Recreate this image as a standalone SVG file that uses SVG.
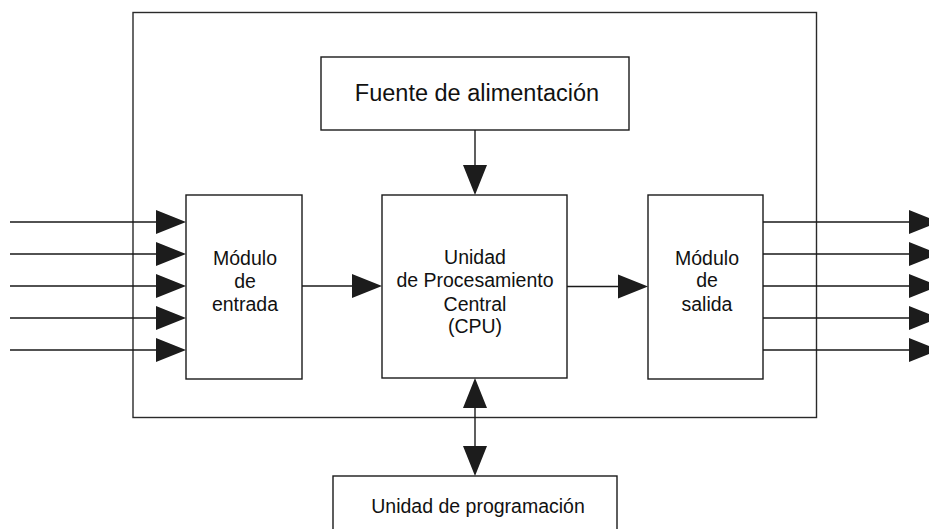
<svg xmlns="http://www.w3.org/2000/svg" width="929" height="529" viewBox="0 0 929 529">
<defs>
<style>
.box{fill:#fff;stroke:#1a1a1a;stroke-width:1.4}
.frame{fill:none;stroke:#2a2a2a;stroke-width:1.4}
.ln{stroke:#1a1a1a;stroke-width:1.4;fill:none}
.ah{fill:#1c1c1c}
text{font-family:"Liberation Sans",Arial,sans-serif;fill:#111;text-anchor:middle}
.t{font-size:19.5px}
.tb{font-size:23.5px}
</style>
</defs>
<rect width="929" height="529" fill="#fff"/>
<g id="frame"><rect class="frame" x="133" y="12.5" width="683.5" height="405"/></g>
<g id="fuente">
<rect class="box" x="321" y="57" width="308" height="73"/>
<text class="tb" x="477" y="101">Fuente de alimentación</text>
</g>
<g id="entrada">
<rect class="box" x="186" y="195" width="116" height="184"/>
<text class="t" x="245" y="265">Módulo</text>
<text class="t" x="245" y="288">de</text>
<text class="t" x="245" y="311">entrada</text>
</g>
<g id="cpu">
<rect class="box" x="382" y="195" width="185" height="183"/>
<text class="t" x="475" y="264">Unidad</text>
<text class="t" x="475" y="287">de Procesamiento</text>
<text class="t" x="475" y="311">Central</text>
<text class="t" x="475" y="333">(CPU)</text>
</g>
<g id="salida">
<rect class="box" x="648" y="195" width="115" height="184"/>
<text class="t" x="707" y="265">Módulo</text>
<text class="t" x="707" y="287">de</text>
<text class="t" x="707" y="311">salida</text>
</g>
<g id="programacion">
<rect class="box" x="333" y="476" width="284" height="60"/>
<text class="t" x="478" y="513">Unidad de programación</text>
</g>
<g id="connectors">
<path class="ln" d="M10 222H160M10 254H160M10 286H160M10 318H160M10 350H160"/>
<path class="ah" d="M156 210L186 222L156 234ZM156 242L186 254L156 266ZM156 274L186 286L156 298ZM156 306L186 318L156 330ZM156 338L186 350L156 362Z"/>
<path class="ln" d="M763 222H912M763 254H912M763 286H912M763 318H912M763 350H912"/>
<path class="ah" d="M909 210L939 222L909 234ZM909 242L939 254L909 266ZM909 274L939 286L909 298ZM909 306L939 318L909 330ZM909 338L939 350L909 362Z"/>
<path class="ln" d="M302 286H355"/>
<path class="ah" d="M352 274L382 286L352 298Z"/>
<path class="ln" d="M567 286.5H621"/>
<path class="ah" d="M618 274.5L648 286.5L618 298.5Z"/>
<path class="ln" d="M475 130V168"/>
<path class="ah" d="M463 165L487 165L475 195Z"/>
<path class="ln" d="M475 405V449"/>
<path class="ah" d="M463 408L487 408L475 378Z"/>
<path class="ah" d="M463 446L487 446L475 476Z"/>
</g>
</svg>
